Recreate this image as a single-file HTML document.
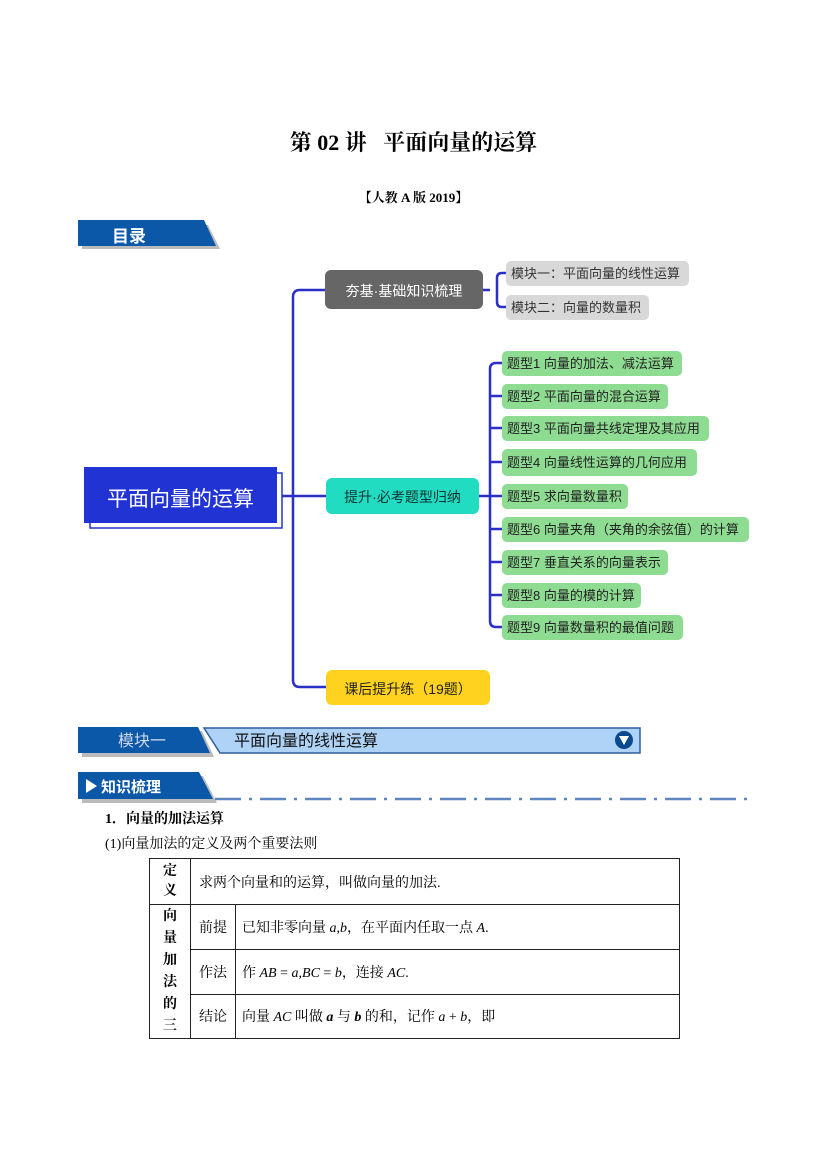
<!DOCTYPE html>
<html><head><meta charset="utf-8"><style>
body{margin:0;width:827px;height:1169px;background:#fff;position:relative;font-family:"Liberation Sans","Noto Sans CJK SC",sans-serif;overflow:hidden}
.a{position:absolute;white-space:nowrap}
.g{position:absolute;background:#8edb92;border-radius:5px;height:25px;line-height:25px;font-size:13px;color:#222;padding-left:5px;box-sizing:border-box}
.k{position:absolute;background:#d8d8d8;border-radius:5px;height:25px;line-height:25px;font-size:13px;color:#333;padding-left:5px;box-sizing:border-box}
td{border:1px solid #222;font-size:14px;font-family:"Liberation Serif","Noto Serif CJK SC",serif;padding:0}
</style></head><body>
<div class="a" style="left:0;width:827px;top:126px;text-align:center;font-size:22px;font-weight:bold;font-family:'Liberation Serif','Noto Serif CJK SC',serif">第 02 讲&nbsp;&nbsp;&nbsp;平面向量的运算</div>
<div class="a" style="left:0;width:827px;top:187px;text-align:center;font-size:13px;font-weight:bold;font-family:'Liberation Serif','Noto Serif CJK SC',serif">【人教 A 版 2019】</div>

<svg class="a" style="left:0;top:0" width="827" height="1169">
<polygon points="80,222 206,222 218,246 80,246" fill="#bbb" transform="translate(2,3)"/>
<polygon points="78,220 204,220 216,246 78,246" fill="#0b57a8"/>
<g stroke="#2a2fc8" stroke-width="2.5" fill="none">
<path d="M277,496 H326"/>
<path d="M325,290 H300 Q293,290 293,297 V680 Q293,687 300,687 H326"/>
<path d="M483,290 H490"/>
<path d="M506,273 H502 Q497,273 497,278 V302 Q497,307 502,307 H506"/>
<path d="M479,496 H502"/>
<path d="M502,363 H496 Q490,363 490,369 V621 Q490,627 496,627 H502"/>
<path d="M490,396 H502 M490,428 H502 M490,462 H502 M490,529 H502 M490,562 H502 M490,595 H502"/>
</g>
<rect x="90" y="473" width="192" height="55" fill="#fff" stroke="#2233cc" stroke-width="1.5"/>
<rect x="84" y="467" width="193" height="56" fill="#2233d4"/>
<rect x="325" y="270" width="158" height="39" rx="6" fill="#666"/>
<rect x="326" y="478" width="153" height="36" rx="6" fill="#22dcc2"/>
<rect x="326" y="670" width="164" height="35" rx="6" fill="#ffd21f"/>
<polygon points="80,729 200,729 212,755 80,755" fill="#bbb" transform="translate(2,2)"/>
<polygon points="78,727 198,727 210,753 78,753" fill="#0b57a8"/>
<polygon points="204,728 640,728 640,753 220,753" fill="#aed3f6" stroke="#2f5f9a" stroke-width="1.5"/>
<circle cx="624" cy="740" r="9" fill="#0b4a90"/>
<polygon points="619,736 629,736 624,745" fill="#fff"/>
<polygon points="80,774 201,774 215,801 80,801" fill="#bbb" transform="translate(2,2)"/>
<polygon points="78,772 199,772 213,799 78,799" fill="#0b57a8"/>
<polygon points="86,779 86,793 97,786" fill="#fff"/>
<line x1="215" y1="799" x2="748" y2="799" stroke="#5b86c0" stroke-width="2.5" stroke-dasharray="26,8,3,8"/>
</svg>

<div class="a" style="left:112px;top:222px;font-size:17px;font-weight:bold;color:#fff">目录</div>
<div class="a" style="left:84px;width:193px;top:483px;text-align:center;font-size:21px;color:#fff">平面向量的运算</div>
<div class="a" style="left:325px;width:158px;top:281px;text-align:center;font-size:14px;color:#fff">夯基·基础知识梳理</div>
<div class="a" style="left:326px;width:153px;top:487px;text-align:center;font-size:14px;color:#133">提升·必考题型归纳</div>
<div class="a" style="left:326px;width:164px;top:679px;text-align:center;font-size:14px;color:#222">课后提升练（19题）</div>

<div class="k" style="left:506px;top:261px;width:183px">模块一：平面向量的线性运算</div>
<div class="k" style="left:506px;top:295px;width:143px">模块二：向量的数量积</div>

<div class="g" style="left:502px;top:351px;width:180px">题型1 向量的加法、减法运算</div>
<div class="g" style="left:502px;top:384px;width:166px">题型2 平面向量的混合运算</div>
<div class="g" style="left:502px;top:416px;width:207px">题型3 平面向量共线定理及其应用</div>
<div class="g" style="left:502px;top:449px;width:195px;height:27px;line-height:27px">题型4 向量线性运算的几何应用</div>
<div class="g" style="left:502px;top:484px;width:126px">题型5 求向量数量积</div>
<div class="g" style="left:502px;top:517px;width:247px">题型6 向量夹角（夹角的余弦值）的计算</div>
<div class="g" style="left:502px;top:550px;width:166px">题型7 垂直关系的向量表示</div>
<div class="g" style="left:502px;top:583px;width:139px">题型8 向量的模的计算</div>
<div class="g" style="left:502px;top:615px;width:181px">题型9 向量数量积的最值问题</div>

<div class="a" style="left:118px;top:727px;font-size:16px;color:#cfd8ea">模块一</div>
<div class="a" style="left:234px;top:727px;font-size:16px;color:#111">平面向量的线性运算</div>
<div class="a" style="left:101px;top:776px;font-size:15px;font-weight:bold;color:#fff">知识梳理</div>
<div class="a" style="left:105px;top:808px;font-size:14px;font-weight:bold;font-family:'Liberation Serif','Noto Serif CJK SC',serif">1．向量的加法运算</div>
<div class="a" style="left:105px;top:833px;font-size:14px;font-family:'Liberation Serif','Noto Serif CJK SC',serif">(1)向量加法的定义及两个重要法则</div>

<table class="a" style="left:149px;top:858px;width:531px;border-collapse:collapse">
<tr style="height:46px"><td style="width:40px;text-align:center;font-weight:bold;line-height:20px">定<br>义</td><td colspan="2" style="padding-left:8px">求两个向量和的运算，叫做向量的加法.</td></tr>
<tr style="height:45px"><td rowspan="3" style="text-align:center;font-weight:bold;line-height:22px;vertical-align:top;padding-top:1px">向<br>量<br>加<br>法<br>的<br>三</td><td style="width:44px;text-align:center">前提</td><td style="padding-left:6px">已知非零向量 <i>a</i>,<i>b</i>，在平面内任取一点 <i>A</i>.</td></tr>
<tr style="height:44px"><td style="text-align:center">作法</td><td style="padding-left:6px">作 <i>AB</i> = <i>a</i>,<i>BC</i> = <i>b</i>，连接 <i>AC</i>.</td></tr>
<tr style="height:44px"><td style="text-align:center">结论</td><td style="padding-left:6px">向量 <i>AC</i> 叫做 <b><i>a</i></b> 与 <b><i>b</i></b> 的和，记作 <i>a</i> + <i>b</i>，即</td></tr>
</table>
</body></html>
